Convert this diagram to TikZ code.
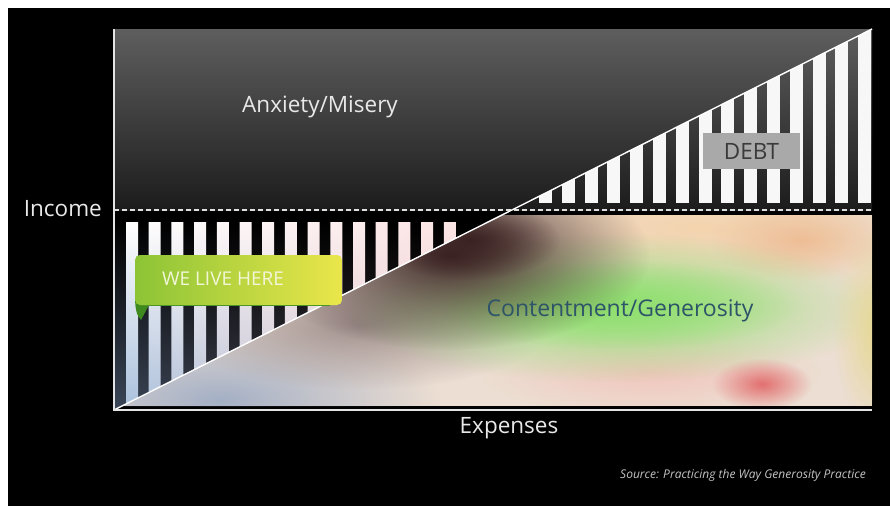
\documentclass[tikz,border=0pt]{standalone}
\usepackage{fontspec}
\setmainfont{Open Sans}
\usetikzlibrary{fadings,shadings}
\definecolor{bgtop}{HTML}{5E5E5E}
\definecolor{bgbot}{HTML}{1C1C1C}
\definecolor{axisc}{HTML}{E4E4E4}
\definecolor{labelc}{HTML}{E8E8E8}
\definecolor{debtfill}{HTML}{A9A9A9}
\definecolor{debttext}{HTML}{3A3A3A}
\definecolor{contc}{HTML}{2D5468}
\definecolor{ribL}{HTML}{8CC436}
\definecolor{ribR}{HTML}{EAE64A}
\definecolor{ribD}{HTML}{3E8A1E}
\definecolor{ribT}{HTML}{F2F6D8}
\definecolor{srcc}{HTML}{C4C4C4}
\definecolor{gapL}{HTML}{3A4658}
\definecolor{gapR}{HTML}{3A2828}
\definecolor{stripeL}{HTML}{A8C0DC}
\definecolor{stripeR}{HTML}{F2C8C8}
\definecolor{stripeTR}{HTML}{FBE4E4}
\definecolor{imgbase}{HTML}{ECDED2}
\definecolor{imgblue}{HTML}{A4B0C6}
\definecolor{imgbrown}{HTML}{3A2222}
\definecolor{imgmauve}{HTML}{9E8E8C}
\definecolor{imggreen}{HTML}{92E072}
\definecolor{imgpeach}{HTML}{F4D4AE}
\definecolor{imgorange}{HTML}{EEBE96}
\definecolor{imgred}{HTML}{E27070}
\definecolor{imgpink}{HTML}{F2C6BE}
\definecolor{imgyg}{HTML}{E6D890}
\tikzfading[name=blob, inner color=transparent!0, outer color=transparent!100]
\tikzset{
  lbl/.style={text=labelc, font=\fontsize{22.5}{26}\selectfont, inner sep=0pt},
  axisline/.style={draw=axisc, line width=1.8pt},
  softblob/.style={fill=#1, path fading=blob},
  incomeline/.style={draw=white!88!black, line width=1.4pt, dash pattern=on 5pt off 3pt},
}
\begin{document}
\begin{tikzpicture}[x=1pt,y=1pt]
\useasboundingbox (0,0) rectangle (890,-506);
\fill[white] (0,0) rectangle (890,-506);
\fill[black] (8,-8) rectangle (890,-506);
\coordinate (O) at (114,-410);
\coordinate (Ytop) at (114,-29);
\coordinate (Xend) at (872,-410);
\coordinate (Dtop) at (872,-29);
\coordinate (Ileft) at (114,-210);
\coordinate (Iright) at (872,-210);
% upper zone
\shade[top color=bgtop, bottom color=bgbot] (114,-29) rectangle (872,-210);
% upper right stripes
\begin{scope}
\clip (525.8,-203) -- (872,-29) -- (872,-203) -- cycle;
\foreach \k in {0,...,14} \fill[white!97!black] (539+22.8*\k,-20) rectangle ++(13,-183);
\end{scope}
% lower left stripes
\begin{scope}
\clip (114,-222) -- (488,-222) -- (114,-410) -- cycle;
\shade[upper left=black, upper right=black, lower left=gapL, lower right=gapR] (114,-222) rectangle (488,-410);
\shade[upper left=white, upper right=stripeTR, lower left=stripeL, lower right=stripeR] foreach \k in {0,...,14} {(126+22.7*\k,-222) rectangle ++(12,-188)};
\end{scope}
% lower image
\begin{scope}
\clip (122,-406) -- (502,-215) -- (872,-215) -- (872,-406) -- cycle;
\fill[imgbase] (114,-215) rectangle (872,-406);
\fill[softblob=imgblue] (220,-400) ellipse (220 and 80);
\fill[softblob=imgpeach] (700,-228) ellipse (280 and 65);
\fill[softblob=imgorange] (800,-240) ellipse (90 and 40);
\fill[softblob=imgpink] (650,-372) ellipse (170 and 45);
\fill[softblob=imgmauve] (360,-325) ellipse (190 and 65);
\fill[softblob=imggreen] (615,-308) ellipse (270 and 75);
\fill[softblob=imggreen] (620,-305) ellipse (180 and 45);
\fill[softblob=imgbrown] (450,-255) ellipse (200 and 95);
\fill[softblob=imgbrown] (470,-240) ellipse (90 and 40);
\fill[softblob=imgred] (762,-384) ellipse (50 and 26);
\fill[softblob=imgyg] (878,-330) ellipse (45 and 100);
\end{scope}
% axes and lines
\draw[incomeline] (Ileft) -- (Iright);
\draw[white, line width=1.4pt] (O) -- (Dtop);
\draw[axisline] (Ytop) -- (O) -- (Xend);
% ribbon
\fill[ribD] (135,-296) .. controls (135,-310) and (137,-316) .. (141,-320) -- (149,-305) -- cycle;
\shade[left color=ribL, right color=ribR, rounded corners=5pt] (135,-255) rectangle (342,-305);
\draw[ribD!80!ribL, line width=1pt] (140,-305) -- (330,-305);
% labels
\node[lbl] (anx) at (320,-107) {Anxiety/Misery};
\node[lbl, anchor=east] (inc) at (102,-209) {Income};
\node[lbl] (exp) at (509,-428) {Expenses};
\node[fill=debtfill, text=debttext, minimum width=97pt, minimum height=36pt, inner sep=0pt, font=\fontsize{22.5}{26}\selectfont] (debt) at (751.5,-151) {DEBT};
\node[text=contc, inner sep=0pt, font=\fontsize{23}{27}\selectfont] (cont) at (620,-311) {Contentment/Generosity};
\node[text=ribT, inner sep=0pt, font=\fontsize{19}{22}\selectfont] (live) at (223,-279) {WE LIVE HERE};
\node[text=srcc, inner sep=0pt, anchor=east, font=\fontsize{12}{14}\selectfont\itshape] (src) at (866,-475) {Source: Practicing the Way Generosity Practice};
\end{tikzpicture}
\end{document}
